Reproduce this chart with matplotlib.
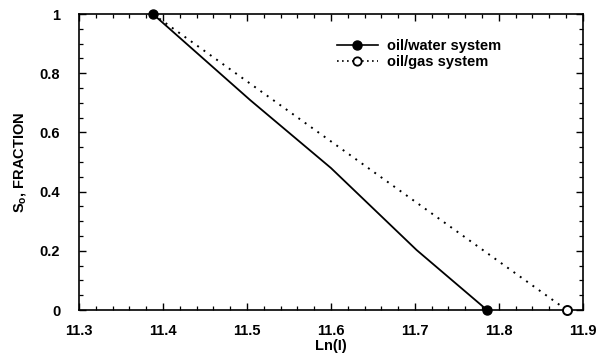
import matplotlib
matplotlib.use("Agg")
import matplotlib.pyplot as plt
from matplotlib.ticker import MultipleLocator, FormatStrFormatter

plt.rcParams['font.family'] = ['Liberation Sans', 'DejaVu Sans']
plt.rcParams['font.weight'] = 'bold'
plt.rcParams['axes.labelweight'] = 'bold'

# data
ln_i_water = [11.388, 11.504, 11.600, 11.702, 11.786]
so_water = [1.0, 0.709, 0.48, 0.203, 0.0]
ln_i_gas = [11.388, 11.881]
so_gas = [1.0, 0.0]

fig = plt.figure(figsize=(5.99, 3.61), dpi=100)
ax = fig.add_axes([0.132, 0.141, 0.841, 0.820])

ax.plot(ln_i_water, so_water, color='black', lw=1.3)
ax.plot([ln_i_water[0], ln_i_water[-1]], [so_water[0], so_water[-1]], ls='none',
        marker='o', ms=6.5, color='black', clip_on=False, zorder=6)
ax.plot(ln_i_gas, so_gas, color='black', lw=1.4, ls=(0, (1, 3)))
ax.plot([ln_i_gas[-1]], [so_gas[-1]], ls='none', marker='o', ms=6.5, mfc='white',
        mec='black', mew=1.4, clip_on=False, zorder=5)

# legend handles with markers
h1, = ax.plot([], [], color='black', lw=1.2, marker='o', ms=6.5)
h2, = ax.plot([], [], color='black', lw=1.2, ls=(0, (1, 2)), marker='o', ms=6,
              mfc='white', mew=1.3)
ax.legend([h1, h2], ['oil/water system', 'oil/gas system'], loc='upper left',
          bbox_to_anchor=(0.512, 0.915), frameon=False, fontsize=10.5,
          handlelength=2.8, handletextpad=0.6, labelspacing=0.12,
          borderpad=0, borderaxespad=0)

ax.set_xlim(11.3, 11.9)
ax.set_ylim(0, 1)
ax.xaxis.set_major_locator(MultipleLocator(0.1))
ax.xaxis.set_minor_locator(MultipleLocator(0.02))
ax.yaxis.set_minor_locator(MultipleLocator(0.05))
ax.xaxis.set_major_formatter(FormatStrFormatter('%.1f'))
ax.set_yticks([0, 0.2, 0.4, 0.6, 0.8, 1.0])
ax.set_yticklabels(['0', '0.2', '0.4', '0.6', '0.8', '1'])

ax.tick_params(which='both', direction='in', top=True, right=True, labelsize=10.5)
ax.tick_params(which='major', length=5, width=1)
ax.tick_params(which='minor', length=3, width=0.9)
ax.tick_params(axis='x', pad=10)
ax.tick_params(axis='y', pad=13.5)
for s in ax.spines.values():
    s.set_linewidth(1.2)

ax.set_xlabel('Ln(I)', fontsize=10.5, labelpad=1)
ax.set_ylabel(r'S$_\mathregular{o}$, FRACTION', fontsize=10.5, labelpad=8)

fig.savefig('out.png', dpi=100)
